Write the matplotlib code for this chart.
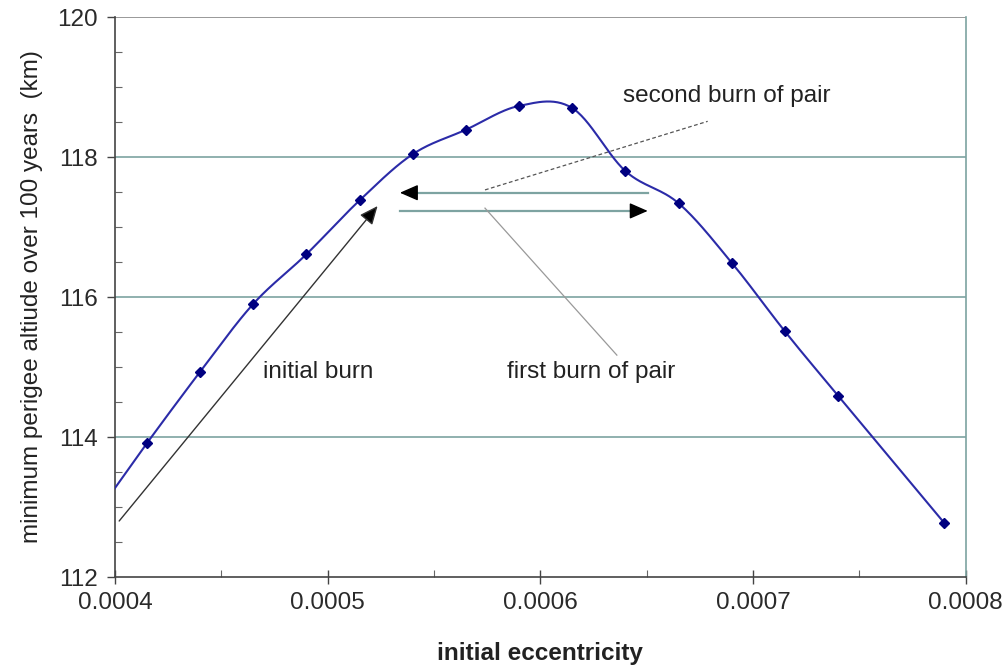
import numpy as np
import matplotlib
matplotlib.use("Agg")
import matplotlib.pyplot as plt
from matplotlib.ticker import MultipleLocator, FormatStrFormatter

# ---- data ----
ecc = [0.000400, 0.000415, 0.000440, 0.000465, 0.000490, 0.000515, 0.000540,
       0.000565, 0.000590, 0.000615, 0.000640, 0.000665, 0.000690, 0.000715,
       0.000740, 0.000790]
alt = [113.27, 113.91, 114.93, 115.90, 116.61, 117.38, 118.04,
       118.39, 118.73, 118.70, 117.80, 117.34, 116.49, 115.51,
       114.59, 112.77]
show_marker = [False] + [True] * 15

xticks = [0.0004, 0.0005, 0.0006, 0.0007, 0.0008]
yticks = [112, 114, 116, 118, 120]

plt.rcParams['font.family'] = ['Liberation Sans', 'DejaVu Sans']

fig = plt.figure(figsize=(10.08, 6.65), dpi=100)
ax = fig.add_axes([0.114, 0.1323, 0.844, 0.8421])

# smooth curve (Excel-style bezier smoothing) computed in normalized space
x = np.array(ecc); y = np.array(alt)
xs = (x - 0.0004) / 0.0004; ys = (y - 112) / 8 * (560 / 851)
P = np.column_stack([xs, ys])
n = len(P)
pts = []
for i in range(n - 1):
    p0 = P[i - 1] if i > 0 else P[i]
    p1 = P[i]; p2 = P[i + 1]
    p3 = P[i + 2] if i + 2 < n else P[i + 1]
    c1 = p1 + (p2 - p0) / 6
    c2 = p2 - (p3 - p1) / 6
    t = np.linspace(0, 1, 30)[:, None]
    seg = (1 - t) ** 3 * p1 + 3 * (1 - t) ** 2 * t * c1 + 3 * (1 - t) * t ** 2 * c2 + t ** 3 * p2
    pts.append(seg)
pts = np.vstack(pts)
cx = pts[:, 0] * 0.0004 + 0.0004
cy = pts[:, 1] / (560 / 851) * 8 + 112

grid_c = '#7da3a1'
for g in [114, 116, 118]:
    ax.axhline(g, color=grid_c, lw=1.2, zorder=1)
ax.axhline(120, color='#888888', lw=1.2, zorder=1)

ax.plot(cx, cy, color='#2b2ba8', lw=1.5, zorder=3)
mx = [a for a, m in zip(ecc, show_marker) if m]
my = [b for b, m in zip(alt, show_marker) if m]
ax.plot(mx, my, linestyle='none', marker='D', ms=5, color='#000080', zorder=4)

ax.set_xlim(0.0004, 0.0008)
ax.set_ylim(112, 120)
ax.set_xticks(xticks)
ax.set_yticks(yticks)
ax.xaxis.set_major_formatter(FormatStrFormatter('%.4f'))
ax.yaxis.set_major_formatter(FormatStrFormatter('%d'))
ax.xaxis.set_minor_locator(MultipleLocator(0.00005))
ax.yaxis.set_minor_locator(MultipleLocator(0.5))
ax.tick_params(axis='x', which='major', direction='inout', length=10, width=1, colors='#444444', labelsize=17.5, labelcolor='#2a2a2a', pad=6)
ax.tick_params(axis='y', which='major', direction='out', length=6, width=1, colors='#444444', labelsize=17.5, labelcolor='#2a2a2a', pad=6.5)
ax.tick_params(which='minor', direction='in', length=5, width=0.8, colors='#666666')

ax.spines['top'].set_visible(False)
ax.spines['right'].set_color(grid_c)
ax.spines['left'].set_color('#444444')
ax.spines['bottom'].set_color('#444444')
for s in ['left', 'bottom', 'right']:
    ax.spines[s].set_linewidth(1.2)

ax.set_xlabel('initial eccentricity', fontsize=17.5, fontweight='bold', color='#222222', labelpad=20)
ax.set_ylabel('minimum perigee altiude over 100 years  (km)', fontsize=17.5, color='#222222', labelpad=10)

# annotations
hs = '-|>,head_length=0.8,head_width=0.35'
# initial burn arrow
ax.annotate('', xy=(0.0005235, 117.3), xytext=(0.000402, 112.8),
            arrowprops=dict(arrowstyle=hs, mutation_scale=14, lw=1.0,
                            ec='#333333', fc='black', shrinkA=0, shrinkB=0))
# pair arrows (teal shafts, black heads)
ax.plot([0.000538, 0.0006505], [117.49, 117.49], color=grid_c, lw=1.6, zorder=2)
ax.annotate('', xy=(0.000534, 117.49), xytext=(0.0005418, 117.49),
            arrowprops=dict(arrowstyle=hs, mutation_scale=14, lw=1.0, color='black',
                            shrinkA=0, shrinkB=0))
ax.plot([0.000534, 0.000646], [117.23, 117.23], color=grid_c, lw=1.6, zorder=2)
ax.annotate('', xy=(0.0006505, 117.23), xytext=(0.0006427, 117.23),
            arrowprops=dict(arrowstyle=hs, mutation_scale=14, lw=1.0, color='black',
                            shrinkA=0, shrinkB=0))
# pointer lines
ax.plot([0.000574, 0.0006787], [117.53, 118.51], color='#555555', lw=0.9, ls=(0, (3, 2)), zorder=2)
ax.plot([0.000574, 0.000636], [117.27, 115.17], color='#999999', lw=0.9, zorder=2)

ax.text(0.0004695, 114.93, 'initial burn', fontsize=17.5, color='#222222', va='center', ha='left')
ax.text(0.0005843, 114.93, 'first burn of pair', fontsize=17.5, color='#222222', va='center', ha='left')
ax.text(0.000639, 118.87, 'second burn of pair', fontsize=17.5, color='#222222', va='center', ha='left')

fig.savefig('out.png', dpi=100)
